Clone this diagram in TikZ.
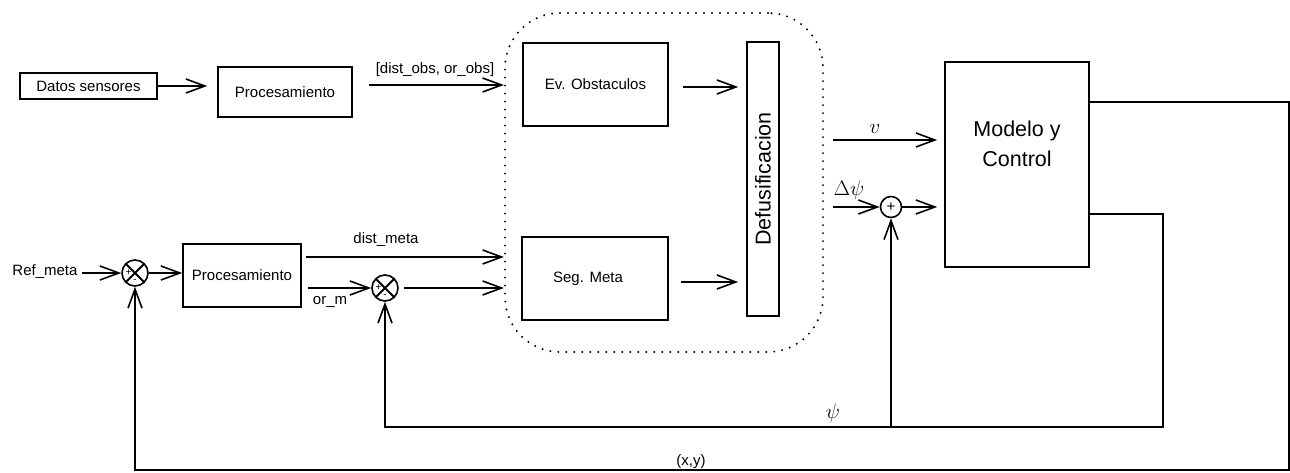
\RequirePackage{fix-cm}
\documentclass[tikz,border=0pt]{standalone}
\usepackage{fontspec}
\setmainfont{Liberation Sans}
\usetikzlibrary{arrows.meta}
\begin{document}
\begin{tikzpicture}[x=1pt,y=-1pt,
  every node/.style={font=\fontsize{15}{18}\selectfont},
  box/.style={draw, line width=1.6pt, inner sep=0pt},
  conn/.style={line width=1.5pt},
  arr/.style={conn, -{Straight Barb[length=19pt,width=14pt,line width=1.6pt]}},
  lbl/.style={inner sep=0pt},
  mlbl/.style={inner sep=0pt, font=\fontsize{21}{24}\selectfont},
  sumx/.style={circle, draw, line width=1.6pt, minimum size=26pt, inner sep=0pt,
    path picture={
      \draw[line width=1.8pt] (path picture bounding box.north west) -- (path picture bounding box.south east)
        (path picture bounding box.north east) -- (path picture bounding box.south west);
      \node[inner sep=0pt, font=\fontsize{10}{10}\selectfont] at ([xshift=-6.5pt,yshift=0.5pt]path picture bounding box.center) {+};
      \node[inner sep=0pt, font=\fontsize{10}{10}\selectfont] at ([yshift=-7.5pt]path picture bounding box.center) {-};
    }},
  sump/.style={circle, draw, line width=1.6pt, minimum size=21pt, inner sep=0pt, font=\fontsize{15}{15}\selectfont}
]
\useasboundingbox (0,0) rectangle (1290,473);

% dotted fuzzy region
\node[draw, line width=2.2pt, dash pattern=on 0pt off 8pt, line cap=round, rounded corners=55pt,
  minimum width=318pt, minimum height=339pt, inner sep=0pt] (fz) at (664,182.5) {};

% boxes
\node[box, minimum width=137pt, minimum height=26pt] (datos) at (88.5,86) {Datos sensores};
\node[box, minimum width=134pt, minimum height=50pt] (proc1) at (285,92) {Procesamiento};
\node[box, minimum width=145pt, minimum height=83pt] (evobs) at (595.5,84.5) {Ev. Obstaculos};
\node[box, minimum width=146pt, minimum height=83pt] (segmeta) at (595,278.5) {\hspace*{-14pt}Seg. Meta};
\node[box, minimum width=32pt, minimum height=274pt] (defus) at (763,179) {};
\node[font=\fontsize{21.5}{24}\selectfont, rotate=90, inner sep=0pt] (defustxt) at (defus.center) {Defusificacion};
\node[box, minimum width=144pt, minimum height=205pt, align=center, font=\fontsize{21.5}{30}\selectfont] (modelo) at (1017,164.5) {Modelo y\\Control\\[12pt]\mbox{}};
\node[box, minimum width=118pt, minimum height=63pt] (proc2) at (242,275.5) {Procesamiento};

% summing junctions
\node[sumx] (s1) at (135,273) {};
\node[sumx] (s2) at (385,288) {};
\node[sump] (s3) at (891,207) {+};

% labels
\node[lbl] (refl) at (45,272) {Ref\_meta};
\node[lbl] (obsl) at (435,70) {[dist\_obs, or\_obs]};
\node[lbl] (dml) at (386,240) {dist\_meta};
\node[lbl] (orml) at (330,302) {or\_m};
\node[mlbl] (vl) at (875,129) {$v$};
\node[mlbl] (dpl) at (849,190) {$\Delta\psi$};
\node[mlbl] (psil) at (833,413) {$\psi$};
\node[lbl] (xyl) at (691,462) {(x,y)};

% coordinates
\coordinate (refin) at (82,273);
\coordinate (obsin) at (369,85);
\coordinate (vin) at (833,140);
\coordinate (dpin) at (833,207);
\coordinate (o1) at (1089,102);
\coordinate (o1r) at (1289,102);
\coordinate (o1b) at (1289,470);
\coordinate (o2) at (1089,214);
\coordinate (o2r) at (1163,214);
\coordinate (o2b) at (1163,427);
\coordinate (jn) at (891,427);

% connectors
\draw[arr, shorten >=10pt] (datos.east) -- (datos.east -| proc1.west);
\draw[arr] (obsin) -- (obsin -| fz.west);
\draw[arr, shorten <=14pt, shorten >=8pt] ([yshift=-2.5pt]evobs.east) -- ([yshift=-2.5pt]evobs.east -| defus.west);
\draw[arr, shorten <=12pt, shorten >=8pt] ([yshift=-3.5pt]segmeta.east) -- ([yshift=-3.5pt]segmeta.east -| defus.west);

\draw[arr] (refin) -- (s1.west);
\draw[arr] (s1.east) -- (s1.east -| proc2.west);
\draw[arr, shorten <=4pt] ([yshift=18.5pt]proc2.east) -- ([yshift=18.5pt]proc2.east -| fz.west);
\draw[arr, shorten <=6pt] ([yshift=-12.5pt]proc2.east) -- (s2.west);
\draw[arr, shorten <=5pt] (s2.east) -- (s2.east -| fz.west);

\draw[arr, shorten >=7pt] (vin) -- (vin -| modelo.west);
\draw[arr] (dpin) -- (s3.west);
\draw[arr, shorten >=7pt] (s3.east) -- (s3.east -| modelo.west);

\draw[arr] (o1) -- (o1r) -- (o1b) -- (o1b -| s1) -- (s1.south);
\draw[arr] (o2) -- (o2r) -- (o2b) -- (o2b -| s2) -- (s2.south);
\draw[arr] (jn) -- (s3.south);
\end{tikzpicture}
\end{document}
